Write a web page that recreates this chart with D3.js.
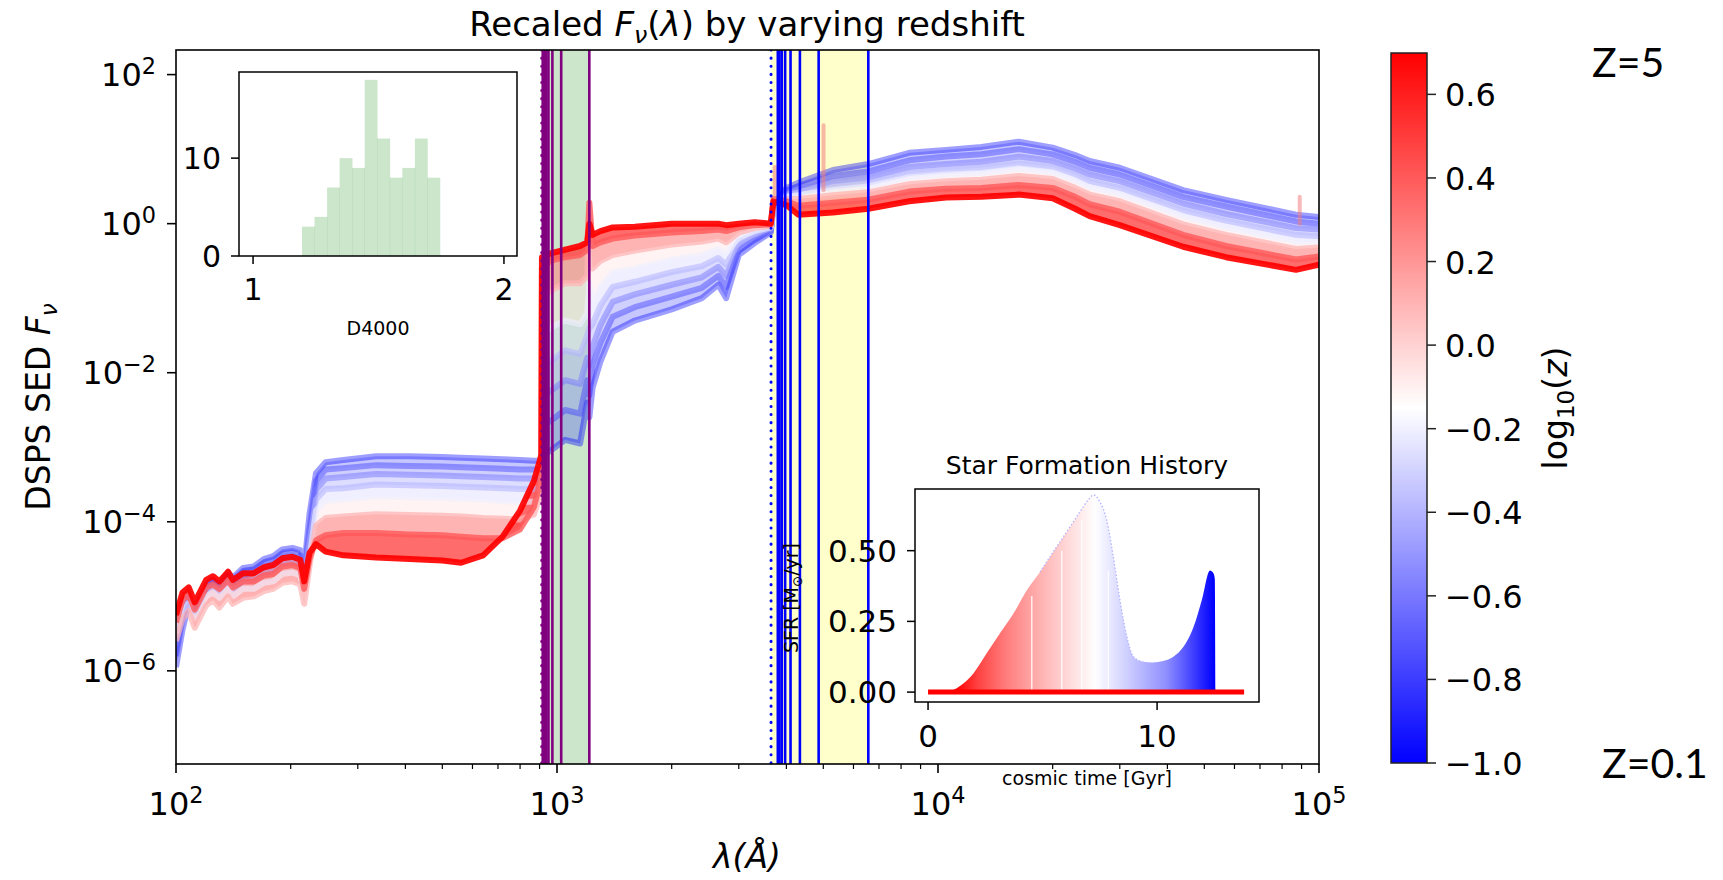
<!DOCTYPE html>
<html>
<head>
<meta charset="utf-8">
<script src="https://cdn.jsdelivr.net/npm/d3@7"></script>
<style>
body { margin: 0; background: #fff; }
svg text { font-family: "DejaVu Sans", sans-serif; fill: #000; }
</style>
</head>
<body>
<svg id="chart" width="1723" height="880"></svg>
<script>
// wavelength grid (Angstrom) shared by every SED
const lam = [100,104,108,112,120,125,130,137,141,150,160,170,180,190,202,212,217,224,233,247,275,335,410,500,560,640,720,800,870,910,913,960,1050,1150,1200,1216,1240,1300,1400,1600,2000,2400,2650,2780,3000,3300,3640,3700,4000,4300,5300,6563,8400,10500,13000,16300,20000,22900,25000,30000,44000,57000,87000,100000];

// log10(z) of each plotted SED
const sedLogZ = [-1.0, -0.8, -0.6, -0.4, -0.2, 0.1, 0.4, 0.7];

// log10 F_nu for each SED
const sedLogF = [
  [-5.95,-5.45,-5.1,-5.2,-4.9,-4.8,-4.85,-4.68,-4.75,-4.62,-4.6,-4.5,-4.46,-4.37,-4.35,-4.38,-4.62,-3.9,
   -3.35,-3.2,-3.17,-3.12,-3.12,-3.13,-3.14,-3.15,-3.16,-3.17,-3.18,-3.18,
   -3.1,-3.05,-2.9,-2.95,-2.4,-2.6,-2.2,-1.85,
   -1.45,-1.3,-1.15,-1.0,-0.82,-1.0,-0.42,-0.26,-0.12,
   0.25,0.48,0.55,0.72,0.8,0.95,0.99,1.03,1.1,1.02,0.92,0.84,0.75,0.45,0.32,0.12,0.09],
  [-5.8,-5.3,-5.0,-5.15,-4.85,-4.78,-4.84,-4.7,-4.78,-4.66,-4.64,-4.55,-4.52,-4.43,-4.41,-4.45,-4.7,-4.1,
   -3.45,-3.3,-3.28,-3.24,-3.25,-3.26,-3.27,-3.28,-3.29,-3.3,-3.3,-3.3,
   -2.7,-2.65,-2.5,-2.55,-2.1,-2.3,-1.9,-1.6,
   -1.25,-1.12,-0.98,-0.86,-0.7,-0.85,-0.36,-0.22,-0.1,
   0.26,0.45,0.5,0.64,0.7,0.85,0.9,0.93,1.0,0.93,0.83,0.75,0.66,0.36,0.23,0.03,0.0],
  [-5.65,-5.15,-4.98,-5.15,-4.85,-4.8,-4.86,-4.73,-4.82,-4.72,-4.68,-4.6,-4.56,-4.47,-4.45,-4.5,-4.75,-4.25,
   -3.57,-3.42,-3.4,-3.36,-3.37,-3.38,-3.39,-3.4,-3.41,-3.42,-3.42,-3.42,
   -2.3,-2.25,-2.1,-2.15,-1.8,-1.9,-1.65,-1.36,
   -1.05,-0.95,-0.82,-0.72,-0.58,-0.7,-0.3,-0.18,-0.08,
   0.27,0.42,0.46,0.57,0.62,0.76,0.8,0.83,0.9,0.84,0.74,0.66,0.57,0.27,0.13,-0.06,-0.08],
  [-5.55,-5.1,-5.0,-5.2,-4.92,-4.86,-4.93,-4.8,-4.9,-4.8,-4.78,-4.7,-4.66,-4.56,-4.53,-4.56,-4.82,-4.3,
   -3.7,-3.56,-3.55,-3.5,-3.51,-3.52,-3.53,-3.54,-3.55,-3.56,-3.56,-3.55,
   -1.9,-1.85,-1.7,-1.75,-1.5,-1.4,-1.35,-1.1,
   -0.85,-0.78,-0.65,-0.57,-0.46,-0.55,-0.24,-0.14,-0.06,
   0.28,0.39,0.42,0.5,0.55,0.68,0.72,0.75,0.81,0.76,0.66,0.57,0.48,0.18,0.04,-0.15,-0.17],
  [-5.5,-5.2,-5.1,-5.3,-5.0,-4.95,-5.02,-4.9,-5.0,-4.9,-4.9,-4.82,-4.8,-4.7,-4.68,-4.72,-5.0,-4.5,
   -3.85,-3.72,-3.7,-3.66,-3.67,-3.68,-3.69,-3.7,-3.72,-3.73,-3.73,-3.7,
   -1.5,-1.4,-1.3,-1.35,-1.2,-0.8,-1.05,-0.85,
   -0.65,-0.6,-0.48,-0.42,-0.34,-0.4,-0.18,-0.1,-0.05,
   0.29,0.36,0.38,0.45,0.5,0.62,0.66,0.68,0.74,0.69,0.58,0.49,0.4,0.1,-0.05,-0.24,-0.25],
  [-5.6,-5.3,-5.2,-5.42,-5.12,-5.05,-5.15,-5.0,-5.1,-5.02,-5.0,-4.93,-4.9,-4.82,-4.8,-4.84,-5.1,-4.6,
   -4.05,-3.95,-3.93,-3.9,-3.91,-3.92,-3.93,-3.95,-3.96,-3.97,-3.9,-3.6,
   -1.0,-0.9,-0.8,-0.8,-0.7,0.1,-0.6,-0.5,
   -0.42,-0.36,-0.28,-0.24,-0.2,-0.25,-0.12,-0.06,-0.03,
   0.31,0.33,0.33,0.38,0.42,0.53,0.57,0.59,0.64,0.6,0.48,0.39,0.3,-0.01,-0.15,-0.34,-0.32],
  [-5.35,-5.05,-4.98,-5.18,-4.88,-4.84,-4.9,-4.78,-4.88,-4.8,-4.8,-4.72,-4.7,-4.6,-4.58,-4.62,-4.9,-4.5,
   -4.25,-4.18,-4.15,-4.15,-4.17,-4.18,-4.2,-4.22,-4.22,-4.1,-3.8,-3.4,
   -0.6,-0.5,-0.45,-0.42,-0.35,0.28,-0.3,-0.25,
   -0.2,-0.16,-0.12,-0.1,-0.08,-0.1,-0.05,-0.02,-0.01,
   0.33,0.3,0.24,0.28,0.32,0.43,0.47,0.48,0.52,0.48,0.36,0.26,0.16,-0.15,-0.3,-0.48,-0.44],
  [-5.25,-4.95,-4.88,-5.08,-4.78,-4.73,-4.8,-4.67,-4.78,-4.69,-4.69,-4.61,-4.58,-4.49,-4.47,-4.51,-4.8,-4.42,
   -4.3,-4.4,-4.45,-4.48,-4.5,-4.52,-4.55,-4.45,-4.2,-3.85,-3.45,-3.1,
   -0.45,-0.4,-0.35,-0.3,-0.25,0.0,-0.15,-0.1,
   -0.05,-0.04,0.0,0.0,0.0,-0.02,0.0,0.02,0.0,
   0.3,0.25,0.12,0.15,0.2,0.3,0.35,0.36,0.39,0.34,0.2,0.1,-0.02,-0.31,-0.45,-0.62,-0.55]
];

// narrow emission spikes seen on a few spectra
const emLam = [3727, 5007, 89000];
const emLow = [0.35, 0.45, 0.0];
const emHigh = [0.76, 1.32, 0.36];

// Lyman and Balmer markers
const lymanLimit = 911.8;
const lymanSeries = [918.1, 919.4, 920.9, 923.1, 926.2, 930.7, 937.8, 949.7, 972.5, 1025.7, 1215.7];
const lymanBand = [911.8, 1215.7];
const balmerLimit = 3646;
const balmerSeries = [3797.9, 3835.4, 3889.1, 3970.1, 4101.7, 4340.5, 4861.3, 6562.8];
const balmerBand = [3646, 6562.8];

// D4000 histogram
const d4000Edges = [1.195, 1.245, 1.295, 1.345, 1.395, 1.445, 1.495, 1.545, 1.595, 1.645, 1.695, 1.745];
const d4000Counts = [3, 4, 7, 10, 9, 18, 12, 8, 9, 12, 8];

// star formation history
const sfhTime = [0, 0.96, 1.54, 1.98, 2.56, 3.14, 3.73, 4.31, 4.89, 5.47, 6.06, 6.64, 7.0, 7.22, 7.5, 7.8, 8.09, 8.38, 8.68, 8.97, 9.4, 9.8, 10.27, 10.71, 11.15, 11.59, 11.95, 12.31, 12.46, 12.52, 12.55];
const sfhSfr = [0, 0.004, 0.03, 0.066, 0.137, 0.208, 0.278, 0.36, 0.425, 0.496, 0.567, 0.638, 0.68, 0.697, 0.673, 0.608, 0.478, 0.325, 0.196, 0.125, 0.107, 0.105, 0.11, 0.125, 0.16, 0.23, 0.325, 0.43, 0.42, 0.40, 0];
const sfhGapTime = [4.53, 5.84, 6.71, 7.87];
const sfhGapTop = [0.34, 0.5, 0.61, 0.43];
const sfhFloor = [0, 13.8];
// cosmic time (Gyr) at a few redshifts, used to colour the SFH
const ageGyr = [1.2, 2.2, 3.3, 4.3, 5.9, 7.3, 8.6, 10.4, 12.5];
const ageLogZ = [0.699, 0.477, 0.301, 0.176, 0.0, -0.155, -0.301, -0.523, -1.0];

// tick values
const xMajor = [1e2, 1e3, 1e4, 1e5];
const xExp = ["2", "3", "4", "5"];
const yMajor = [1e2, 1, 1e-2, 1e-4, 1e-6];
const yExp = ["2", "0", "\u22122", "\u22124", "\u22126"];
const cbTicks = [-1.0, -0.8, -0.6, -0.4, -0.2, 0.0, 0.2, 0.4, 0.6];
const histXTicks = [1, 2];
const histYTicks = [0, 10];
const sfhXTicks = [0, 10];
const sfhYTicks = [0, 0.25, 0.5];

const svg = d3.select("#chart");
const plot = {left: 176, right: 1319, top: 50, bottom: 764};

const x = d3.scaleLog().domain([1e2, 1e5]).range([plot.left, plot.right]);
const y = d3.scaleLog().domain([Math.pow(10, -7.25), Math.pow(10, 2.33)]).range([plot.bottom, plot.top]);
const zColor = d3.scaleLinear().domain([-1, -0.15, 0.699]).range(["#0000ff", "#ffffff", "#ff0000"]);
const zAlpha = d3.scaleLinear().domain([-1, 0.7]).range([0.38, 0.92]);

function powLabel(sel, exp) {
  sel.text("10");
  sel.append("tspan").attr("dy", -12).attr("font-size", "0.7em").text(exp);
}

const defs = svg.append("defs");
defs.append("clipPath").attr("id", "plotClip")
  .append("rect")
  .attr("x", plot.left).attr("y", plot.top)
  .attr("width", plot.right - plot.left).attr("height", plot.bottom - plot.top);

// ---------- main panel ----------
const main = svg.append("g").attr("clip-path", "url(#plotClip)");

main.append("rect")
  .attr("x", x(lymanBand[0])).attr("width", x(lymanBand[1]) - x(lymanBand[0]))
  .attr("y", plot.top).attr("height", plot.bottom - plot.top)
  .attr("fill", "#008000").attr("fill-opacity", 0.2);
main.append("rect")
  .attr("x", x(balmerBand[0])).attr("width", x(balmerBand[1]) - x(balmerBand[0]))
  .attr("y", plot.top).attr("height", plot.bottom - plot.top)
  .attr("fill", "#ffff00").attr("fill-opacity", 0.2);

const sedLine = d3.line()
  .x((d, i) => x(lam[i]))
  .y(d => y(Math.pow(10, d)));

// fill between neighbouring redshifts so the family reads as one band
for (let k = 0; k < sedLogF.length - 1; k++) {
  const lo = sedLogF[k], hi = sedLogF[k + 1];
  const zm = (sedLogZ[k] + sedLogZ[k + 1]) / 2;
  const band = d3.area()
    .x((d, i) => x(lam[i]))
    .y0((d, i) => y(Math.pow(10, lo[i])))
    .y1((d, i) => y(Math.pow(10, hi[i])));
  main.append("path")
    .attr("d", band(lo))
    .attr("fill", zColor(zm))
    .attr("fill-opacity", zAlpha(zm) * (zm > 0 ? 0.8 : 0.6));
}

sedLogF.forEach((curve, k) => {
  main.append("path")
    .attr("d", sedLine(curve))
    .attr("fill", "none")
    .attr("stroke", zColor(sedLogZ[k]))
    .attr("stroke-opacity", zAlpha(sedLogZ[k]))
    .attr("stroke-width", 6)
    .attr("stroke-linejoin", "round");
});

emLam.forEach((l, i) => {
  main.append("line")
    .attr("x1", x(l)).attr("x2", x(l))
    .attr("y1", y(Math.pow(10, emLow[i]))).attr("y2", y(Math.pow(10, emHigh[i])))
    .attr("stroke", "#f08080").attr("stroke-opacity", 0.55)
    .attr("stroke-width", 4).attr("stroke-linecap", "round");
});

function vline(l, color, dotted) {
  const ln = main.append("line")
    .attr("x1", x(l)).attr("x2", x(l))
    .attr("y1", plot.top).attr("y2", plot.bottom)
    .attr("stroke", color);
  if (dotted) {
    ln.attr("stroke-width", 3).attr("stroke-dasharray", "0.1,8").attr("stroke-linecap", "round");
  } else {
    ln.attr("stroke-width", 2.6);
  }
}
vline(lymanLimit, "#800080", true);
lymanSeries.forEach(l => vline(l, "#800080", false));
vline(balmerLimit, "#0000ff", true);
balmerSeries.forEach(l => vline(l, "#0000ff", false));

// frame and ticks
const axes = svg.append("g");
axes.append("rect")
  .attr("x", plot.left).attr("y", plot.top)
  .attr("width", plot.right - plot.left).attr("height", plot.bottom - plot.top)
  .attr("fill", "none").attr("stroke", "#000").attr("stroke-width", 1.6);

let xMinor = [];
[1e2, 1e3, 1e4].forEach(dec => { for (let m = 2; m <= 9; m++) xMinor.push(dec * m); });
xMinor.forEach(v => {
  axes.append("line").attr("x1", x(v)).attr("x2", x(v))
    .attr("y1", plot.bottom).attr("y2", plot.bottom + 5)
    .attr("stroke", "#000").attr("stroke-width", 1.2);
});
xMajor.forEach((v, i) => {
  axes.append("line").attr("x1", x(v)).attr("x2", x(v))
    .attr("y1", plot.bottom).attr("y2", plot.bottom + 9)
    .attr("stroke", "#000").attr("stroke-width", 1.6);
  axes.append("text").attr("x", x(v)).attr("y", 815)
    .attr("text-anchor", "middle").attr("font-size", 32)
    .call(powLabel, xExp[i]);
});
yMajor.forEach((v, i) => {
  axes.append("line").attr("x1", plot.left - 9).attr("x2", plot.left)
    .attr("y1", y(v)).attr("y2", y(v))
    .attr("stroke", "#000").attr("stroke-width", 1.6);
  axes.append("text").attr("x", 156).attr("y", y(v) + 11)
    .attr("text-anchor", "end").attr("font-size", 32)
    .call(powLabel, yExp[i]);
});

// titles
const title = svg.append("text").attr("x", 747).attr("y", 36)
  .attr("text-anchor", "middle").attr("font-size", 34);
title.append("tspan").text("Recaled ");
title.append("tspan").attr("font-style", "italic").text("F");
title.append("tspan").attr("font-style", "italic").attr("font-size", "0.7em").attr("dy", 7).text("\u03bd");
title.append("tspan").attr("dy", -7).text("(");
title.append("tspan").attr("font-style", "italic").text("\u03bb");
title.append("tspan").text(") by varying redshift");

svg.append("text").attr("x", 747).attr("y", 868)
  .attr("text-anchor", "middle").attr("font-size", 33).attr("font-style", "italic")
  .text("\u03bb(\u00c5)");

const ylab = svg.append("text")
  .attr("transform", "translate(50,407) rotate(-90)")
  .attr("text-anchor", "middle").attr("font-size", 33);
ylab.append("tspan").text("DSPS SED ");
ylab.append("tspan").attr("font-style", "italic").text("F");
ylab.append("tspan").attr("font-style", "italic").attr("font-size", "0.7em").attr("dy", 7).text("\u03bd");

// ---------- D4000 inset ----------
const hBox = {left: 239, right: 517, top: 72, bottom: 256};
const hx = d3.scaleLinear().domain([0.944, 2.052]).range([hBox.left, hBox.right]);
const hy = d3.scaleLinear().domain([0, 18.8]).range([hBox.bottom, hBox.top]);
const hist = svg.append("g");
hist.append("rect").attr("x", hBox.left).attr("y", hBox.top)
  .attr("width", hBox.right - hBox.left).attr("height", hBox.bottom - hBox.top)
  .attr("fill", "#fff");
hist.selectAll("rect.bar").data(d4000Counts).join("rect")
  .attr("class", "bar")
  .attr("x", (d, i) => hx(d4000Edges[i]))
  .attr("width", (d, i) => hx(d4000Edges[i + 1]) - hx(d4000Edges[i]) + 0.3)
  .attr("y", d => hy(d))
  .attr("height", d => hy(0) - hy(d))
  .attr("fill", "#008000").attr("fill-opacity", 0.2);
hist.append("rect").attr("x", hBox.left).attr("y", hBox.top)
  .attr("width", hBox.right - hBox.left).attr("height", hBox.bottom - hBox.top)
  .attr("fill", "none").attr("stroke", "#000").attr("stroke-width", 1.5);
histXTicks.forEach(v => {
  hist.append("line").attr("x1", hx(v)).attr("x2", hx(v))
    .attr("y1", hBox.bottom).attr("y2", hBox.bottom + 8).attr("stroke", "#000").attr("stroke-width", 1.5);
  hist.append("text").attr("x", hx(v)).attr("y", 300).attr("text-anchor", "middle")
    .attr("font-size", 30).text(v);
});
histYTicks.forEach(v => {
  hist.append("line").attr("x1", hBox.left - 8).attr("x2", hBox.left)
    .attr("y1", hy(v)).attr("y2", hy(v)).attr("stroke", "#000").attr("stroke-width", 1.5);
  hist.append("text").attr("x", 221).attr("y", hy(v) + 11).attr("text-anchor", "end")
    .attr("font-size", 30).text(v);
});
hist.append("text").attr("x", (hBox.left + hBox.right) / 2).attr("y", 335)
  .attr("text-anchor", "middle").attr("font-size", 19).attr("fill", "#222").text("D4000");

// ---------- SFH inset ----------
const sBox = {left: 915, right: 1259, top: 489, bottom: 702};
const sx = d3.scaleLinear().domain([-0.57, 14.45]).range([sBox.left, sBox.right]);
const sy = d3.scaleLinear().domain([-0.035, 0.718]).range([sBox.bottom, sBox.top]);

const sfhGrad = defs.append("linearGradient").attr("id", "sfhGrad")
  .attr("gradientUnits", "userSpaceOnUse")
  .attr("x1", sx(0)).attr("x2", sx(14)).attr("y1", 0).attr("y2", 0);
ageGyr.forEach((t, i) => {
  sfhGrad.append("stop").attr("offset", t / 14).attr("stop-color", zColor(ageLogZ[i]));
});

const sfh = svg.append("g");
sfh.append("rect").attr("x", sBox.left).attr("y", sBox.top)
  .attr("width", sBox.right - sBox.left).attr("height", sBox.bottom - sBox.top)
  .attr("fill", "#fff");
const sfhPts = sfhTime.map((t, i) => [t, sfhSfr[i]]);
sfh.append("path")
  .attr("d", d3.area().x(d => sx(d[0])).y0(sy(0)).y1(d => sy(d[1])).curve(d3.curveMonotoneX)(sfhPts))
  .attr("fill", "url(#sfhGrad)");
sfh.append("path")
  .attr("d", d3.line().x(d => sx(d[0])).y(d => sy(d[1])).curve(d3.curveMonotoneX)(sfhPts.filter(d => d[0] >= 4.8 && d[0] <= 9.5)))
  .attr("fill", "none").attr("stroke", "#b4b4ff").attr("stroke-width", 1.3).attr("stroke-dasharray", "1.5,2");
sfhGapTime.forEach((t, i) => {
  sfh.append("line").attr("x1", sx(t)).attr("x2", sx(t))
    .attr("y1", sy(0)).attr("y2", sy(sfhGapTop[i]))
    .attr("stroke", "#fff").attr("stroke-opacity", 0.85).attr("stroke-width", 1.4);
});
sfh.append("line").attr("x1", sx(sfhFloor[0])).attr("x2", sx(sfhFloor[1]))
  .attr("y1", sy(0)).attr("y2", sy(0))
  .attr("stroke", "#ff0000").attr("stroke-width", 5);
sfh.append("rect").attr("x", sBox.left).attr("y", sBox.top)
  .attr("width", sBox.right - sBox.left).attr("height", sBox.bottom - sBox.top)
  .attr("fill", "none").attr("stroke", "#000").attr("stroke-width", 1.5);
sfhXTicks.forEach(v => {
  sfh.append("line").attr("x1", sx(v)).attr("x2", sx(v))
    .attr("y1", sBox.bottom).attr("y2", sBox.bottom + 8).attr("stroke", "#000").attr("stroke-width", 1.5);
  sfh.append("text").attr("x", sx(v)).attr("y", 747).attr("text-anchor", "middle")
    .attr("font-size", 31).text(v);
});
sfhYTicks.forEach(v => {
  sfh.append("line").attr("x1", sBox.left - 8).attr("x2", sBox.left)
    .attr("y1", sy(v)).attr("y2", sy(v)).attr("stroke", "#000").attr("stroke-width", 1.5);
  sfh.append("text").attr("x", 897).attr("y", sy(v) + 11).attr("text-anchor", "end")
    .attr("font-size", 31).text(v.toFixed(2));
});
sfh.append("text").attr("x", (sBox.left + sBox.right) / 2).attr("y", 474)
  .attr("text-anchor", "middle").attr("font-size", 25).attr("fill", "#222").text("Star Formation History");
sfh.append("text").attr("x", 1087).attr("y", 785)
  .attr("text-anchor", "middle").attr("font-size", 19).attr("fill", "#222").text("cosmic time [Gyr]");
const sfrLab = sfh.append("text").attr("transform", "translate(798,598) rotate(-90)")
  .attr("text-anchor", "middle").attr("font-size", 19).attr("fill", "#222");
sfrLab.append("tspan").text("SFR [M");
sfrLab.append("tspan").attr("font-size", "0.7em").attr("dy", 4).text("\u2299");
sfrLab.append("tspan").attr("dy", -4).text("/yr]");

// ---------- colorbar ----------
const cb = {left: 1391, right: 1427, top: 53, bottom: 763};
const cbScale = d3.scaleLinear().domain([-1, 0.699]).range([cb.bottom, cb.top]);
const cbGrad = defs.append("linearGradient").attr("id", "cbGrad")
  .attr("x1", 0).attr("y1", 1).attr("x2", 0).attr("y2", 0);
cbGrad.append("stop").attr("offset", 0).attr("stop-color", "#0000ff");
cbGrad.append("stop").attr("offset", 0.5).attr("stop-color", "#ffffff");
cbGrad.append("stop").attr("offset", 1).attr("stop-color", "#ff0000");
const cbar = svg.append("g");
cbar.append("rect").attr("x", cb.left).attr("y", cb.top)
  .attr("width", cb.right - cb.left).attr("height", cb.bottom - cb.top)
  .attr("fill", "url(#cbGrad)").attr("stroke", "#222").attr("stroke-width", 1.5);
cbTicks.forEach(v => {
  cbar.append("line").attr("x1", cb.right).attr("x2", cb.right + 9)
    .attr("y1", cbScale(v)).attr("y2", cbScale(v)).attr("stroke", "#222").attr("stroke-width", 1.5);
  cbar.append("text").attr("x", 1445).attr("y", cbScale(v) + 12)
    .attr("font-size", 32).attr("fill", "#222")
    .text((v < -0.001 ? "\u2212" : "") + Math.abs(v).toFixed(1));
});
const cbLab = cbar.append("text").attr("transform", "translate(1567,408) rotate(-90)")
  .attr("text-anchor", "middle").attr("font-size", 33).attr("fill", "#222");
cbLab.append("tspan").text("log");
cbLab.append("tspan").attr("font-size", "0.7em").attr("dy", 7).text("10");
cbLab.append("tspan").attr("dy", -7).text("(");
cbLab.append("tspan").attr("font-style", "italic").text("z");
cbLab.append("tspan").text(")");

// annotations
svg.append("text").attr("x", 1592).attr("y", 77)
  .style("font-family", "Lato, 'Open Sans', sans-serif").attr("font-size", 41).text("Z=5");
svg.append("text").attr("x", 1602).attr("y", 778)
  .style("font-family", "Lato, 'Open Sans', sans-serif").attr("font-size", 41).text("Z=0.1");
</script>
</body>
</html>
